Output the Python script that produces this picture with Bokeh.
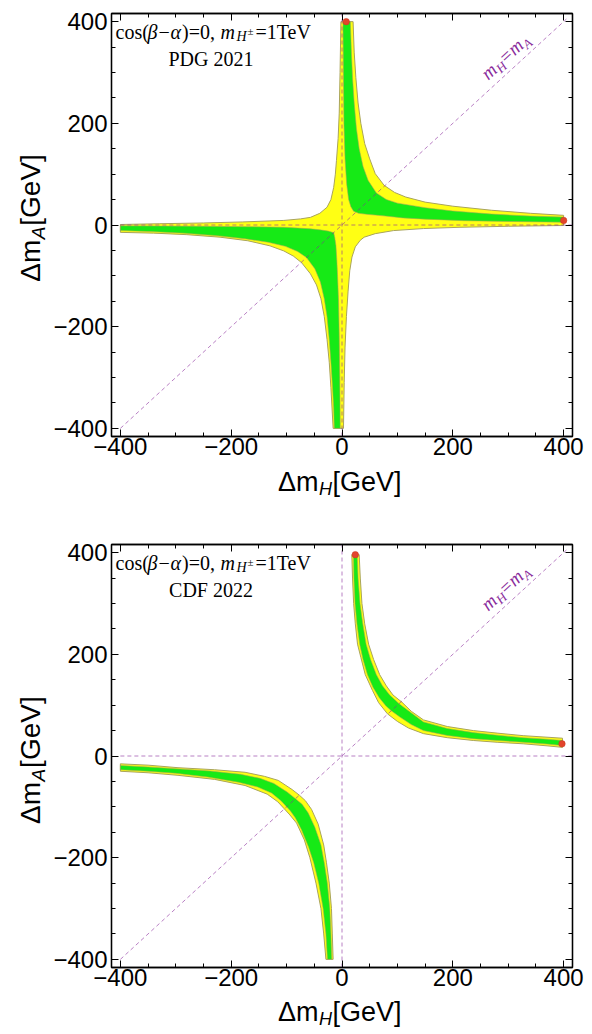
import math
from bokeh.plotting import figure
from bokeh.layouts import column, row
from bokeh.models import Label, LinearAxis, FixedTicker, CustomJSTickFormatter, Range1d
from bokeh.embed import file_html
from bokeh.resources import INLINE

# ---------------- axes / ticks ----------------
x_limits = (-416, 416)
y_limits = (-416, 416)
major_ticks = [-400, -200, 0, 200, 400]
minor_ticks = [-400, -350, -300, -250, -200, -150, -100, -50, 0, 50, 100, 150, 200, 250, 300, 350, 400]

# ---------------- PDG 2021 panel (top) ----------------
# 2 sigma (yellow) cross-shaped region: four boundary curves
pdg_2s_q1_x = [20, 22, 25, 29, 34, 41, 50, 60, 76, 95, 115, 150, 200, 270, 340, 400]
pdg_2s_q1_y = [400, 340, 290, 240, 200, 160, 130, 101, 78, 64, 55, 45, 37, 29, 23, 19]
pdg_2s_q4_x = [400, 300, 213, 147, 93, 60, 40, 33, 24, 18, 14, 11, 8, 5.5, 4, 2.7]
pdg_2s_q4_y = [-1, -2.5, -4.5, -7, -11, -17, -24, -30, -43, -63, -90, -130, -180, -240, -310, -400]
pdg_2s_q3_x = [-16, -18, -20, -23, -27, -32, -38, -46, -57, -73, -88, -105, -130, -170, -220, -280, -340, -400]
pdg_2s_q3_y = [-400, -360, -320, -270, -225, -180, -145, -118, -96, -74, -61, -51, -41, -31, -24, -19, -16, -14.5]
pdg_2s_q2_x = [-400, -330, -250, -180, -105, -75, -57, -40, -27, -20, -15, -12, -10, -7, -5, -3.5, -2]
pdg_2s_q2_y = [1, 2.5, 4, 6, 9, 12, 15, 23, 35, 50, 74, 100, 127, 170, 220, 300, 400]
# 1 sigma (green) regions
pdg_1s_q1_outer_x = [15, 17, 19, 22, 26, 31, 38, 47, 62, 80, 100, 150, 200, 270, 340, 400]
pdg_1s_q1_outer_y = [400, 340, 290, 240, 190, 150, 115, 88, 63, 50, 43, 34, 27.5, 21.5, 17.5, 15.5]
pdg_1s_q1_inner_x = [1.7, 2.5, 3.5, 5.5, 8.5, 12, 16, 21, 30, 45, 75, 110, 150, 220, 300, 400]
pdg_1s_q1_inner_y = [400, 300, 200, 130, 80, 50, 36, 27, 23, 21, 18, 14, 11.5, 8.5, 7, 5.5]
pdg_1s_q3_outer_x = [-13.9, -15, -17, -20, -23, -27, -32, -39, -49, -64, -80, -102, -133, -175, -225, -285, -345, -400]
pdg_1s_q3_outer_y = [-400, -360, -320, -270, -225, -180, -145, -112, -86, -64, -52, -42, -34, -27, -21, -16, -13, -11]
pdg_1s_q3_inner_x = [-3.2, -4, -5, -6.3, -8, -9.3, -11, -13, -15, -25, -40, -57, -80, -105, -160, -250, -400]
pdg_1s_q3_inner_y = [-400, -300, -220, -148, -100, -70, -40, -25, -15, -12, -9.5, -7.5, -6, -4.5, -3.5, -2.5, -1.6]
pdg_best_x = [7.6, 400]
pdg_best_y = [400, 9]

# ---------------- CDF 2022 panel (bottom) ----------------
cdf_2s_q1_outer_x = [31, 33, 36, 41, 48, 57, 68, 80, 92, 108, 125, 147, 190, 237, 280, 327, 370, 398]
cdf_2s_q1_outer_y = [396, 350, 300, 260, 220, 190, 160, 138, 120, 106, 88, 71, 58, 50, 45, 40, 37, 35]
cdf_2s_q1_inner_x = [17.7, 19, 21, 24, 28, 34, 42, 55, 66, 82, 100, 120, 147, 190, 237, 280, 327, 370, 398]
cdf_2s_q1_inner_y = [396, 350, 300, 260, 220, 194, 160, 129, 105, 83, 68, 55, 44, 36, 30.5, 27, 24, 20, 17]
cdf_1s_q1_outer_x = [27.4, 29, 32.5, 37.5, 43.5, 51.5, 62, 73, 86, 103, 121, 147, 190, 237, 280, 327, 370, 398]
cdf_1s_q1_outer_y = [396, 350, 300, 260, 220, 190, 160, 138, 120, 103, 88, 67, 54, 46, 41, 36, 33, 30.5]
cdf_1s_q1_inner_x = [20.7, 21.5, 23.5, 27, 32, 38, 46, 56, 67, 79, 89, 104, 125, 147, 190, 237, 280, 327, 370, 398]
cdf_1s_q1_inner_y = [396, 350, 300, 260, 220, 190, 160, 135, 115, 99, 89, 77, 62, 50, 40.5, 34, 30.5, 27, 23.5, 20.5]
cdf_2s_q3_outer_x = [-29, -33, -38, -47, -58, -68, -82, -94, -104, -116, -135, -175, -230, -296, -350, -400]
cdf_2s_q3_outer_y = [-400, -350, -300, -250, -200, -165, -132, -116, -104, -90, -75, -58, -46, -38, -33, -30]
cdf_2s_q3_inner_x = [-16, -17.5, -19, -23, -28, -33, -43, -55, -66, -77, -90, -115, -140, -175, -230, -296, -350, -400]
cdf_2s_q3_inner_y = [-400, -350, -300, -250, -210, -175, -134, -105, -88, -77, -66, -48, -40, -32, -27, -23, -18, -15.4]
cdf_1s_q3_outer_x = [-26.2, -29, -34, -42, -51, -60, -73, -84, -93, -100, -110, -127, -152, -187, -242, -300, -350, -400]
cdf_1s_q3_outer_y = [-400, -350, -300, -250, -210, -180, -145, -122, -108, -100, -88, -73, -61, -51.5, -41.5, -34, -30, -27]
cdf_1s_q3_inner_x = [-18.5, -20, -22, -26.5, -32, -38, -49, -61, -72, -84, -99, -123, -148, -183, -238, -300, -350, -400]
cdf_1s_q3_inner_y = [-400, -350, -300, -250, -210, -175, -140, -112, -95, -84, -71, -54, -44, -36, -29.5, -25, -21.5, -18.5]
cdf_best_x = [24, 397]
cdf_best_y = [396, 24]

# reference lines
ref_h_x, ref_h_y = [-400, 416], [0, 0]
ref_v_x, ref_v_y = [0, 0], [-416, 416]
diag_x, diag_y = [-400, 405], [-400, 405]

YELLOW = "#ffff14"
GREEN = "#16ea16"
EDGE = "#a9a45c"
PURPLE = "#8a2c9c"
RED = "#e2442c"
SANS = "Liberation Sans"
SERIF = "Liberation Serif"
MID = 0.34   # baseline lies MID*size below the vertical middle of a text line

# layout (pixels)
FRAME_W, FRAME_H = 461, 423
YSTRIP_W = 50
LEFT_B, RIGHT_B = 58, 20
TOTAL_W = YSTRIP_W + LEFT_B + FRAME_W + RIGHT_B
BOTTOM_B = 29


def band(ox, oy, ix, iy):
    return list(ox) + list(ix)[::-1], list(oy) + list(iy)[::-1]


def add_text(p, x, y, text, dx, dy, size, font=SANS, style="normal", color="black",
             angle=0.0, align="left"):
    """(dx, dy): pixel offset of the text baseline start; converted to a middle anchor."""
    ux, uy = -math.sin(angle), math.cos(angle)  # glyph 'up' direction
    m = MID * size
    p.add_layout(Label(x=x, y=y, x_offset=dx + m * ux, y_offset=dy + m * uy, text=text,
                       text_font=font, text_font_size=f"{size}px", text_font_style=style,
                       text_color=color, angle=angle, text_align=align,
                       text_baseline="middle"))


def strip(w, h):
    s = figure(width=w, height=h, x_range=Range1d(0, w), y_range=Range1d(0, h),
               output_backend="svg", toolbar_location=None, min_border=0,
               x_axis_location=None, y_axis_location=None,
               background_fill_color="white", border_fill_color="white")
    s.outline_line_color = None
    s.grid.visible = False
    return s


def make_panel(yellow_polys, green_polys, best_x, best_y, dataset, b_top):
    p = figure(frame_width=FRAME_W, frame_height=FRAME_H,
               x_range=Range1d(*x_limits), y_range=Range1d(*y_limits),
               output_backend="svg", toolbar_location=None,
               min_border_left=LEFT_B, min_border_right=RIGHT_B,
               min_border_top=b_top, min_border_bottom=BOTTOM_B,
               background_fill_color="white", border_fill_color="white")
    p.grid.visible = False
    p.outline_line_color = "black"
    p.outline_line_width = 1.3
    ticker = FixedTicker(ticks=major_ticks, minor_ticks=minor_ticks)
    fmt = CustomJSTickFormatter(code="return tick < 0 ? '\u2212' + Math.abs(tick) : String(tick);")
    for ax in list(p.xaxis) + list(p.yaxis):
        ax.ticker = ticker
        ax.formatter = fmt
        ax.major_tick_in = 7
        ax.major_tick_out = 0
        ax.minor_tick_in = 4
        ax.minor_tick_out = 0
        ax.axis_line_width = 1.3
        ax.axis_line_color = "black"
        ax.major_tick_line_color = "black"
        ax.minor_tick_line_color = "black"
        ax.major_label_text_font = SANS
        ax.major_label_text_font_size = "24px"
        ax.major_label_text_color = "black"
        ax.axis_label = None
    p.xaxis.major_label_standoff = 1
    p.yaxis.major_label_standoff = 4
    for loc in ("above", "right"):
        ax = LinearAxis(ticker=FixedTicker(ticks=major_ticks, minor_ticks=minor_ticks),
                        formatter=CustomJSTickFormatter(code="return '';"),
                        major_tick_in=7, major_tick_out=0, minor_tick_in=4, minor_tick_out=0,
                        major_label_standoff=0, major_label_text_font_size="1px",
                        axis_line_color="black", axis_line_width=1.3)
        p.add_layout(ax, loc)

    for xs, ys in yellow_polys:
        p.patch(xs, ys, fill_color=YELLOW, line_color=EDGE, line_width=1)
    for xs, ys in green_polys:
        p.patch(xs, ys, fill_color=GREEN, line_color=EDGE, line_width=0.8, line_alpha=0.7)

    for xs, ys in ((ref_h_x, ref_h_y), (ref_v_x, ref_v_y), (diag_x, diag_y)):
        p.line(xs, ys, line_color=PURPLE, line_alpha=0.6, line_width=1, line_dash="4 3")

    p.scatter(best_x, best_y, size=6.5, fill_color=RED, line_color="#c8361f", line_width=0.5)

    # diagonal label m_H = m_A
    th = math.atan2(FRAME_H, FRAME_W)
    c, s = math.cos(th), math.sin(th)
    ax0, ay0 = 264, 284
    pieces = [("m", 0, 0, 19), ("H", 14, 3.5, 13), ("=", 24.5, 0, 19), ("m", 36, 0, 19), ("A", 50, 3.5, 13)]
    for t, d, sh, sz in pieces:
        add_text(p, ax0, ay0, t, d * c + sh * s, d * s - sh * c, sz, font=SERIF,
                 style="normal" if t == "=" else "italic", color=PURPLE, angle=th)

    # title text (top-left corner of frame)
    X0, Y0 = x_limits[0], y_limits[1]
    add_text(p, X0, Y0, "cos(", 4, -25, 20, font=SERIF)
    add_text(p, X0, Y0, "β", 36, -25, 20, font=SERIF, style="italic")
    add_text(p, X0, Y0, "−", 47, -25, 20, font=SERIF)
    add_text(p, X0, Y0, "α", 59, -25, 20, font=SERIF, style="italic")
    add_text(p, X0, Y0, ")=0,", 70.5, -25, 20, font=SERIF)
    add_text(p, X0, Y0, "m", 109, -25, 20, font=SERIF, style="italic")
    add_text(p, X0, Y0, "H", 125, -28, 14, font=SERIF, style="italic")
    add_text(p, X0, Y0, "±", 136, -21.5, 11, font=SERIF)
    add_text(p, X0, Y0, "=1TeV", 144, -25, 20, font=SERIF)
    add_text(p, X0, Y0, dataset, 99.5, -52, 20, font=SERIF, align="center")
    return p


def y_strip(h, frame_top):
    s = strip(YSTRIP_W, h)
    cy = h - (frame_top + FRAME_H / 2)
    r = math.pi / 2
    add_text(s, 40, cy, "Δm", 0, -64, 28, angle=r)
    add_text(s, 44, cy, "A", 0, -21.5, 19, style="italic", angle=r)
    add_text(s, 40, cy, "[GeV]", 0, -8, 28, angle=r)
    return s


def x_strip(h, baseline_from_top):
    s = strip(TOTAL_W, h)
    cx = YSTRIP_W + LEFT_B + FRAME_W / 2
    by = h - baseline_from_top
    add_text(s, cx, by, "Δm", -61, 0, 27)
    add_text(s, cx, by, "H", -20, -4, 18, style="italic")
    add_text(s, cx, by, "[GeV]", -6.5, 0, 27)
    return s


pdg_yellow = [(pdg_2s_q1_x + pdg_2s_q4_x + pdg_2s_q3_x + pdg_2s_q2_x,
               pdg_2s_q1_y + pdg_2s_q4_y + pdg_2s_q3_y + pdg_2s_q2_y)]
pdg_green = [band(pdg_1s_q1_outer_x, pdg_1s_q1_outer_y, pdg_1s_q1_inner_x, pdg_1s_q1_inner_y),
             band(pdg_1s_q3_outer_x, pdg_1s_q3_outer_y, pdg_1s_q3_inner_x, pdg_1s_q3_inner_y)]
cdf_yellow = [band(cdf_2s_q1_outer_x, cdf_2s_q1_outer_y, cdf_2s_q1_inner_x, cdf_2s_q1_inner_y),
              band(cdf_2s_q3_outer_x, cdf_2s_q3_outer_y, cdf_2s_q3_inner_x, cdf_2s_q3_inner_y)]
cdf_green = [band(cdf_1s_q1_outer_x, cdf_1s_q1_outer_y, cdf_1s_q1_inner_x, cdf_1s_q1_inner_y),
             band(cdf_1s_q3_outer_x, cdf_1s_q3_outer_y, cdf_1s_q3_inner_x, cdf_1s_q3_inner_y)]

TOP1, TOP2 = 13, 38
p1 = make_panel(pdg_yellow, pdg_green, pdg_best_x, pdg_best_y, "PDG 2021", TOP1)
p2 = make_panel(cdf_yellow, cdf_green, cdf_best_x, cdf_best_y, "CDF 2022", TOP2)
H1 = TOP1 + FRAME_H + BOTTOM_B          # 465
H2 = TOP2 + FRAME_H + BOTTOM_B          # 490
XS1 = 506 - H1                          # strip under the top panel
XS2 = 1034 - 506 - H2                   # strip under the bottom panel

layout = column(
    row(y_strip(H1, TOP1), p1, spacing=0),
    x_strip(XS1, 25.5),
    row(y_strip(H2, TOP2), p2, spacing=0),
    x_strip(XS2, 25),
    spacing=0,
)
open("out.html", "w", encoding="utf-8").write(file_html(layout, INLINE))
